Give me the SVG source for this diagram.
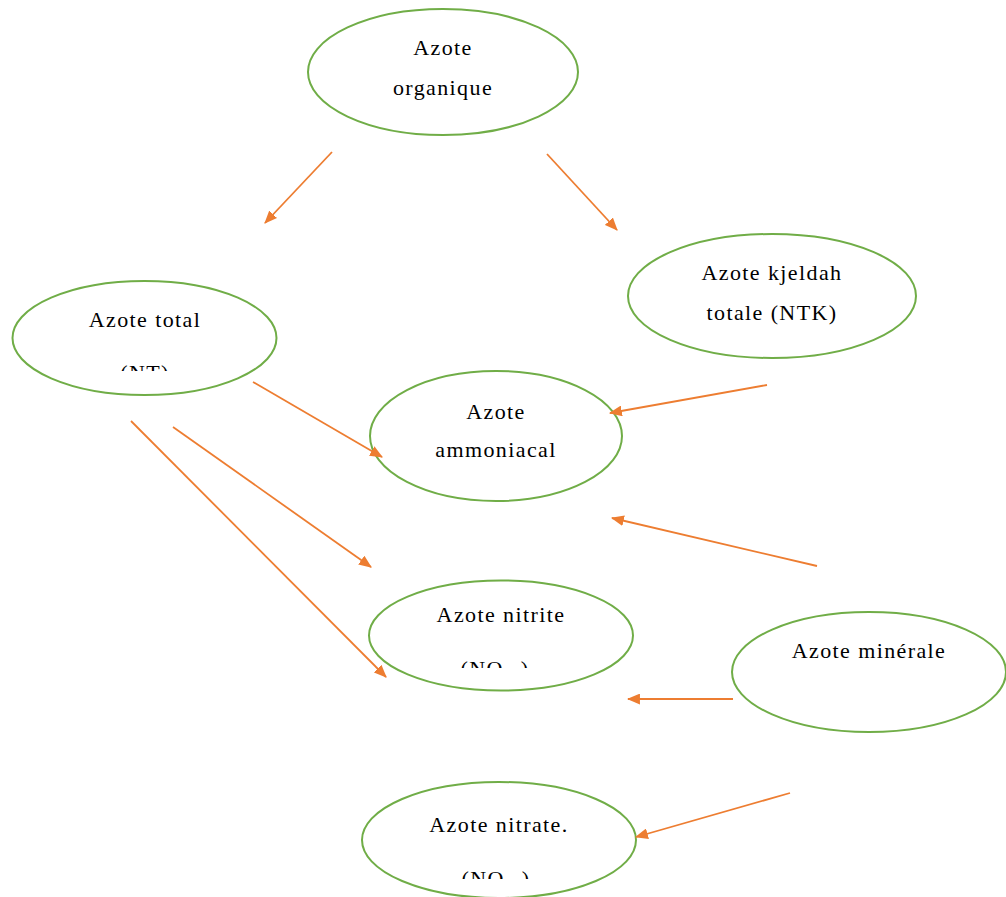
<svg xmlns="http://www.w3.org/2000/svg" width="1006" height="897" viewBox="0 0 1006 897">
<style>
.n ellipse{fill:#fff;stroke:#70AD47;stroke-width:2}
.n text{font-family:'Liberation Serif','Times New Roman','DejaVu Serif',serif;font-size:22px;fill:#000;text-anchor:middle;letter-spacing:1.4px}
.c line{stroke:#ED7D31;stroke-width:1.8;marker-end:url(#ah)}
</style>
<defs>
<marker id="ah" viewBox="0 0 12 10" refX="11" refY="5" markerWidth="13" markerHeight="11" markerUnits="userSpaceOnUse" orient="auto">
<path d="M0,0 L12,5 L0,10 z" fill="#ED7D31"/>
</marker>
<clipPath id="c1"><rect x="0" y="0" width="1006" height="371"/></clipPath>
<clipPath id="c2"><rect x="0" y="0" width="1006" height="668"/></clipPath>
<clipPath id="c3"><rect x="0" y="0" width="1006" height="879"/></clipPath>
</defs>
<rect width="1006" height="897" fill="#fff"/>
<g id="n-organique" class="n">
<ellipse cx="443" cy="72" rx="135" ry="63"/>
<text x="443" y="55">Azote</text>
<text x="443" y="95">organique</text>
</g>
<g id="n-ntk" class="n">
<ellipse cx="772" cy="296" rx="144" ry="62"/>
<text x="772" y="280">Azote kjeldah</text>
<text x="772" y="320">totale (NTK)</text>
</g>
<g id="n-total" class="n">
<ellipse cx="144.5" cy="338" rx="132" ry="57"/>
<text x="145" y="327">Azote total</text>
<text x="145" y="380" clip-path="url(#c1)">(NT)</text>
</g>
<g id="n-ammoniacal" class="n">
<ellipse cx="496" cy="436" rx="126" ry="65"/>
<text x="496" y="419">Azote</text>
<text x="496" y="457">ammoniacal</text>
</g>
<g id="n-nitrite" class="n">
<ellipse cx="501" cy="635.5" rx="132" ry="55"/>
<text x="501" y="622">Azote nitrite</text>
<text x="495" y="676" clip-path="url(#c2)">(NO<tspan font-size="14" dy="4">2</tspan><tspan dy="-4">-)</tspan></text>
</g>
<g id="n-minerale" class="n">
<ellipse cx="869" cy="672" rx="137" ry="60"/>
<text x="869" y="658">Azote minérale</text>
</g>
<g id="n-nitrate" class="n">
<ellipse cx="499" cy="840" rx="137" ry="58"/>
<text x="499" y="832">Azote nitrate.</text>
<text x="496" y="886" clip-path="url(#c3)">(NO<tspan font-size="14" dy="4">3</tspan><tspan dy="-4">-)</tspan></text>
</g>
<g id="connectors" class="c">
<line x1="332" y1="152" x2="265" y2="223"/>
<line x1="547" y1="154" x2="617" y2="230"/>
<line x1="253" y1="382" x2="382" y2="457"/>
<line x1="767" y1="385" x2="610" y2="413"/>
<line x1="817" y1="566" x2="612" y2="518"/>
<line x1="733" y1="699" x2="628" y2="699"/>
<line x1="790" y1="793" x2="636" y2="837"/>
<line x1="173" y1="427" x2="371" y2="567"/>
<line x1="131" y1="421" x2="386" y2="677"/>
</g>
</svg>
